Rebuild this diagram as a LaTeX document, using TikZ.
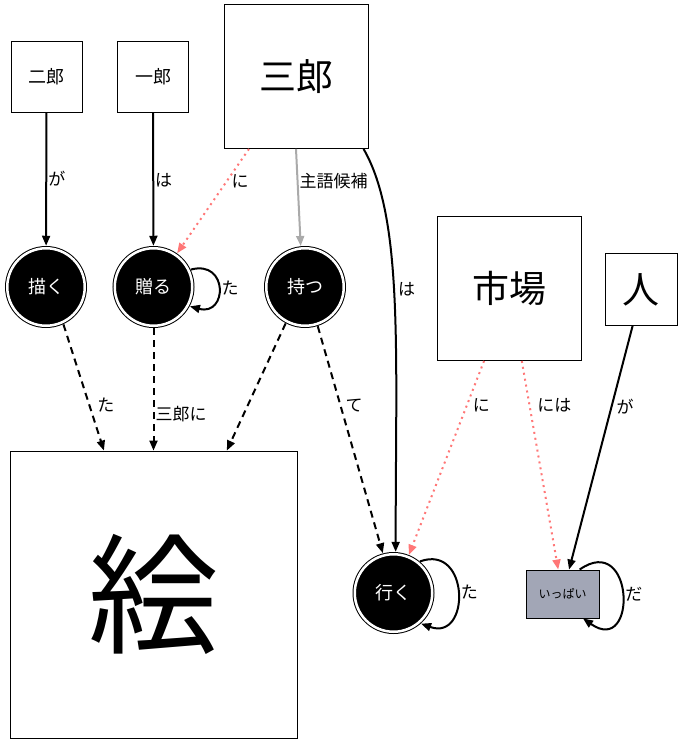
\documentclass[tikz,border=0pt]{standalone}
\usepackage{fontspec}
\newfontfamily\jpfont{Noto Sans CJK JP}
\usetikzlibrary{arrows.meta}
\usetikzlibrary{positioning}

\definecolor{niedge}{HTML}{FF7777}
\definecolor{subjedge}{HTML}{AAAAAA}
\definecolor{adjfill}{HTML}{A2A6B6}

\begin{document}
\begin{tikzpicture}[x=1pt,y=1pt,
        word/.style={rectangle, draw=black, line width=0.9pt, inner sep=0pt, font=\jpfont\fontsize{18}{20}\selectfont},
        bigword/.style={word, minimum size=144pt, font=\jpfont\fontsize{37}{40}\selectfont},
        verb/.style={circle, fill=black, draw=black, double=white, double distance=2.5pt, line width=1pt,
            minimum size=77.5pt, inner sep=0pt, outer sep=2.5pt, text=white, font=\jpfont\fontsize{18}{20}\selectfont},
        rel/.style={-{Triangle[length=10pt,width=8pt]}, line width=2pt},
        ni/.style={rel, draw=niedge, dash pattern=on 2pt off 4pt},
        subj/.style={rel, draw=subjedge},
        mod/.style={rel, dash pattern=on 7pt off 5pt},
        lbl/.style={font=\jpfont\fontsize{17}{19}\selectfont, inner sep=1pt, text=black}
    ]
        \useasboundingbox (0,0) rectangle (683,-744);

        \node[word, minimum size=71pt] (jiro) at (46.5,-76.5) {二郎};
        \node[word, minimum size=71pt] (ichiro) at (153,-76.5) {一郎};
        \node[bigword] (saburo) at (296,-76.5) {三郎};
        \node[bigword] (ichiba) at (509,-288.5) {市場};
        \node[word, minimum size=72pt, font=\jpfont\fontsize{37}{40}\selectfont] (hito) at (641,-289.5) {人};
        \node[word, minimum size=287pt, font=\jpfont\fontsize{130}{140}\selectfont] (e) at (153.5,-594.5) {絵};

        \node[verb] (kaku) at (46,-287) {描く};
        \node[verb] (okuru) at (153.5,-287) {贈る};
        \node[verb] (motsu) at (305,-287) {持つ};
        \node[verb] (iku) at (393.5,-593) {行く};
        \node[word, fill=adjfill, minimum width=73pt, minimum height=48pt,
            font=\jpfont\fontsize{12}{14}\selectfont] (ippai) at (562.5,-594) {いっぱい};

        \draw[rel] (jiro) -- node[lbl, right, pos=.5] {が} (kaku);
        \draw[rel] (ichiro) -- node[lbl, right, pos=.51] {は} (okuru);
        \draw[rel] (saburo.-47) .. controls +(-60:80) and +(90:200) .. node[lbl, right=2pt, pos=.47] {は} (iku.87);
        \draw[rel] (okuru.25) .. controls +(15:39) and +(-15:39) .. node[lbl, right=1pt] {た} (okuru.-28);
        \draw[rel] (iku.50) .. controls +(20:53) and +(-20:53) .. node[lbl, right=1pt] {た} (iku.-48);
        \draw[rel] (ippai.55) .. controls +(35:67) and +(-35:67) .. node[lbl, right=1pt] {だ} (ippai.-50);
        \draw[rel] (hito.-103) -- node[lbl, right=3pt, pos=.33] {が} (ippai.75);
        \draw[ni] (saburo.-123) -- node[lbl, right=3pt, pos=.31] {に} (okuru.55);
        \draw[ni] (ichiba.-109) -- node[lbl, right=4pt, pos=.23] {に} (iku.68);
        \draw[ni] (ichiba.-80) -- node[lbl, right=6pt, pos=.21] {には} (ippai.100);
        \draw[subj] (saburo.south) -- node[lbl, right, pos=.33] {主語候補} (motsu.96);
        \draw[mod] (kaku.-65) -- node[lbl, right=6pt, pos=.64] {た} (e.109);
        \draw[mod] (okuru) -- node[lbl, right, pos=.7] {三郎に} (e);
        \draw[mod] (motsu.-118) -- (e.63.5);
        \draw[mod] (motsu.-72) -- node[lbl, right=3pt, pos=.35] {て} (iku.105);
    \end{tikzpicture}
\end{document}
